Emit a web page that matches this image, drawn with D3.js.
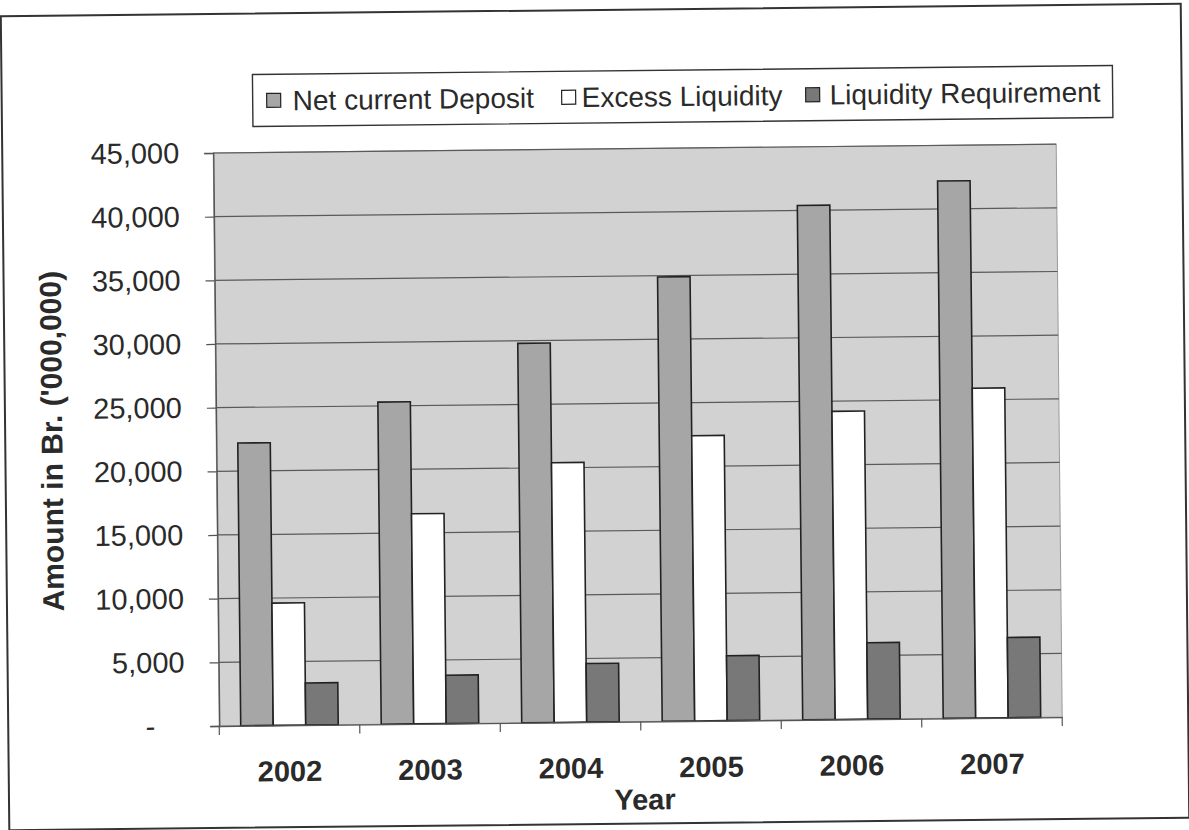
<!DOCTYPE html>
<html>
<head>
<meta charset="utf-8">
<script src="https://cdn.jsdelivr.net/npm/d3@7"></script>
<style>
  html, body { margin: 0; padding: 0; background: #fff; }
  svg { display: block; }
  text { font-family: Arial, "Liberation Sans", Helvetica, sans-serif; fill: #2a2a2a; }
</style>
</head>
<body>
<svg id="chart" width="1189" height="830"></svg>
<script>
// Bank liquidity by year (Br. '000,000)
const years = ["2002", "2003", "2004", "2005", "2006", "2007"];
const seriesNames = ["Net current Deposit", "Excess Liquidity", "Liquidity Requirement"];
const netCurrentDeposit = [22200, 25300, 29800, 34900, 40400, 42200];
const excessLiquidity = [9600, 16500, 20400, 22400, 24200, 25900];
const liquidityRequirement = [3300, 3800, 4600, 5100, 6000, 6300];
const yTicks = [0, 5000, 10000, 15000, 20000, 25000, 30000, 35000, 40000, 45000];

const seriesValues = [netCurrentDeposit, excessLiquidity, liquidityRequirement];
const seriesFill = ["#a6a6a6", "#ffffff", "#787878"];

const W = 1189, H = 830;
const plot = { left: 216, right: 1059, top: 149, bottom: 722 };

const svg = d3.select("#chart");
svg.append("rect").attr("width", W).attr("height", H).attr("fill", "#fff");

// the sheet sits slightly askew on the page
const root = svg.append("g").attr("transform", `rotate(-0.6, ${W / 2}, ${H / 2})`);

// outer chart frame
root.append("rect")
  .attr("x", 5).attr("y", 10).attr("width", 1180).attr("height", 814)
  .attr("fill", "#fff").attr("stroke", "#333").attr("stroke-width", 2);

const x0 = d3.scaleBand().domain(years).range([plot.left, plot.right]).paddingInner(0).paddingOuter(0);
const barW = 32.5;
const x1 = d3.scaleBand().domain(d3.range(3)).range([0, barW * 3]);
const y = d3.scaleLinear().domain([0, 45000]).range([plot.bottom, plot.top]);

// plot area
root.append("rect")
  .attr("x", plot.left).attr("y", plot.top)
  .attr("width", plot.right - plot.left).attr("height", plot.bottom - plot.top)
  .attr("fill", "#d2d2d2").attr("stroke", "#9a9a9a").attr("stroke-width", 1);

// gridlines
root.append("g").selectAll("line").data(yTicks.filter(d => d > 0)).join("line")
  .attr("x1", plot.left).attr("x2", plot.right)
  .attr("y1", d => y(d)).attr("y2", d => y(d))
  .attr("stroke", "#5a5a5a").attr("stroke-width", 1.2);

// bars
const groups = root.append("g").selectAll("g").data(years).join("g")
  .attr("transform", d => `translate(${x0(d) + (x0.bandwidth() - barW * 3) / 2},0)`);

groups.selectAll("rect").data((d, i) => seriesValues.map((vals, s) => ({ s, v: vals[i] }))).join("rect")
  .attr("x", d => x1(d.s))
  .attr("width", x1.bandwidth())
  .attr("y", d => y(d.v))
  .attr("height", d => y(0) - y(d.v))
  .attr("fill", d => seriesFill[d.s])
  .attr("stroke", "#222").attr("stroke-width", 1.6);

// y axis (zero shown as a dash, accounting style)
const yAxis = d3.axisLeft(y).tickValues(yTicks)
  .tickFormat(d => d === 0 ? "-" : d3.format(",")(d))
  .tickSize(9).tickPadding(25);
const ya = root.append("g").attr("transform", `translate(${plot.left},0)`).call(yAxis);
ya.select(".domain").attr("stroke", "#555").attr("stroke-width", 1.4);
ya.selectAll(".tick line").attr("stroke", "#555").attr("stroke-width", 1.2);
ya.selectAll(".tick text").attr("font-size", 29).attr("fill", "#2e2e2e")
  .attr("dx", d => d === 0 ? -30 : 0);

// x axis
const xAxis = d3.axisBottom(x0).tickSize(0).tickFormat(() => "");
const xa = root.append("g").attr("transform", `translate(0,${plot.bottom})`).call(xAxis);
xa.select(".domain").attr("stroke", "#555").attr("stroke-width", 1.4);
xa.selectAll(".tick").remove();
xa.selectAll("line.sep").data([...years.map(d => x0(d)), plot.right]).join("line")
  .attr("class", "sep")
  .attr("x1", d => d).attr("x2", d => d)
  .attr("y1", 0).attr("y2", 9)
  .attr("stroke", "#555").attr("stroke-width", 1.2);

root.append("g").selectAll("text").data(years).join("text")
  .attr("x", d => x0(d) + x0.bandwidth() / 2)
  .attr("y", 778)
  .attr("text-anchor", "middle")
  .attr("font-size", 29).attr("font-weight", "bold")
  .text(d => d);

// axis titles
root.append("text")
  .attr("x", 641).attr("y", 810)
  .attr("text-anchor", "middle")
  .attr("font-size", 29).attr("font-weight", "bold")
  .text("Year");

root.append("text")
  .attr("transform", `translate(62,${(plot.top + plot.bottom) / 2}) rotate(-90)`)
  .attr("text-anchor", "middle")
  .attr("font-size", 30).attr("font-weight", "bold")
  .text("Amount in Br. ('000,000)");

// legend
const legend = root.append("g");
legend.append("rect")
  .attr("x", 256).attr("y", 71).attr("width", 860).attr("height", 52)
  .attr("fill", "#fff").attr("stroke", "#333").attr("stroke-width", 1.4);

const legendSwatchX = [270, 565, 809];
const legendTextX = [296, 585, 833];
const items = legend.selectAll("g").data(seriesNames).join("g");
items.append("rect")
  .attr("x", (d, i) => legendSwatchX[i]).attr("y", 90).attr("width", 14).attr("height", 14)
  .attr("fill", (d, i) => seriesFill[i]).attr("stroke", "#222").attr("stroke-width", 1.2);
items.append("text")
  .attr("x", (d, i) => legendTextX[i]).attr("y", 107)
  .attr("font-size", 28)
  .text(d => d);
</script>
</body>
</html>
